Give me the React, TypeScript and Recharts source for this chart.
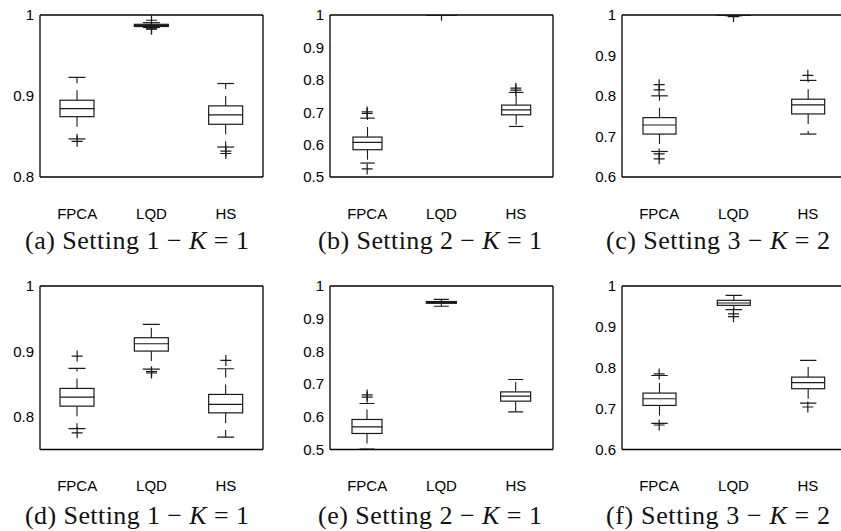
import React from 'react';
import { ComposedChart, Bar, Scatter, XAxis, YAxis, ReferenceLine } from 'recharts';

// ---------- data ----------
const methods = ['FPCA', 'LQD', 'HS'];

// each row: [low whisker, Q1, median, Q3, high whisker] for FPCA, LQD, HS
const statsA = [
  [0.847, 0.8745, 0.8844, 0.8948, 0.923],
  [0.9845, 0.9858, 0.987, 0.9885, 0.9905],
  [0.837, 0.8651, 0.8766, 0.8878, 0.9154],
];
const outliersA = [[0.844], [0.9935, 0.983, 0.9825], [0.832, 0.829]];

const statsB = [
  [0.543, 0.5842, 0.6068, 0.6233, 0.6817],
  [0.9993, 0.9996, 0.9998, 1.0, 1.0],
  [0.656, 0.692, 0.7074, 0.7219, 0.761],
];
const outliersB = [[0.696, 0.701, 0.525], [0.999], [0.768, 0.774]];

const statsC = [
  [0.663, 0.706, 0.7284, 0.7466, 0.8004],
  [0.998, 0.999, 0.9995, 1.0, 1.0],
  [0.706, 0.7557, 0.7781, 0.7921, 0.8385],
];
const outliersC = [[0.815, 0.828, 0.657, 0.645], [0.996], [0.851]];

const statsD = [
  [0.782, 0.8163, 0.8301, 0.8434, 0.874],
  [0.873, 0.9005, 0.9117, 0.9209, 0.9413],
  [0.769, 0.806, 0.8189, 0.8342, 0.8735],
];
const outliersD = [[0.8929, 0.7755], [0.869, 0.867], [0.8862]];

const statsE = [
  [0.501, 0.549, 0.5692, 0.5918, 0.6407],
  [0.938, 0.947, 0.95, 0.9525, 0.9594],
  [0.615, 0.6478, 0.663, 0.6761, 0.714],
];
const outliersE = [[0.66, 0.667], [], []];

const statsF = [
  [0.664, 0.7078, 0.7242, 0.738, 0.781],
  [0.942, 0.9527, 0.9584, 0.965, 0.977],
  [0.7135, 0.7487, 0.7634, 0.7771, 0.818],
];
const outliersF = [[0.785, 0.66], [0.932, 0.925], [0.704]];

const ticksA = [0.8, 0.9, 1];
const ticksB = [0.5, 0.6, 0.7, 0.8, 0.9, 1];
const ticksC = [0.6, 0.7, 0.8, 0.9, 1];
const ticksD = [0.8, 0.9, 1];
const ticksE = [0.5, 0.6, 0.7, 0.8, 0.9, 1];
const ticksF = [0.6, 0.7, 0.8, 0.9, 1];

const domainA: [number, number] = [0.8, 1];
const domainB: [number, number] = [0.5, 1];
const domainC: [number, number] = [0.6, 1];
const domainD: [number, number] = [0.75, 1];
const domainE: [number, number] = [0.5, 1];
const domainF: [number, number] = [0.6, 1];

const captions = [
  ['(a)', '1', '1'],
  ['(b)', '2', '1'],
  ['(c)', '3', '2'],
  ['(d)', '1', '1'],
  ['(e)', '2', '1'],
  ['(f)', '3', '2'],
];

// ---------- styling / layout ----------
const INK = '#1a1a1a';
const SANS = '"Liberation Sans", Arial, Helvetica, sans-serif';
const SERIF = '"Liberation Serif", "Times New Roman", serif';
const FRAME_W = 223;
const Y_W = 45;
const M_TOP = 10;
const M_RIGHT = 12;
const X_H = 60;
const PLUS = 5.5;

function buildRows(stats: number[][], outliers: number[][]) {
  return methods.map((name, i) => {
    const [lo, q1, med, q3, hi] = stats[i];
    const row: any = { name, lower: [lo, q1], box: [q1, q3], upper: [q3, hi], median: med };
    outliers[i].forEach((v, j) => {
      row['o' + j] = v;
    });
    return row;
  });
}

const fmt = (v: number) => (v === 1 ? '1' : v.toFixed(1));

function whiskerShape(side: 'upper' | 'lower', capW: number) {
  return (props: any) => {
    const { x, y, width, height } = props;
    if (x == null || y == null || Number.isNaN(y)) return <g />;
    const cx = x + width / 2;
    const top = Math.min(y, y + height);
    const bot = Math.max(y, y + height);
    const from = side === 'upper' ? bot : top;
    const to = side === 'upper' ? top : bot;
    return (
      <g>
        <line x1={cx} x2={cx} y1={from} y2={to} stroke={INK} strokeWidth={1.1} strokeDasharray="10 7" />
        <line x1={cx - capW / 2} x2={cx + capW / 2} y1={to} y2={to} stroke={INK} strokeWidth={1.2} />
      </g>
    );
  };
}

const boxShape = (props: any) => {
  const { x, y, width, height } = props;
  if (x == null || y == null || Number.isNaN(y)) return <g />;
  const top = Math.min(y, y + height);
  const h = Math.abs(height);
  return <rect x={x} y={top} width={width} height={h} fill="#fff" stroke={INK} strokeWidth={1.2} />;
};

function medianShape(bw: number) {
  return (props: any) => {
    const { cx, cy } = props;
    if (cx == null || cy == null || Number.isNaN(cy)) return <g />;
    return <line x1={cx - bw / 2} x2={cx + bw / 2} y1={cy} y2={cy} stroke={INK} strokeWidth={1.2} />;
  };
}

const plusShape = (props: any) => {
  const { cx, cy } = props;
  if (cx == null || cy == null || Number.isNaN(cx) || Number.isNaN(cy)) return <g />;
  return (
    <g>
      <line x1={cx - PLUS} x2={cx + PLUS} y1={cy} y2={cy} stroke={INK} strokeWidth={1.2} />
      <line x1={cx} x2={cx} y1={cy - PLUS} y2={cy + PLUS} stroke={INK} strokeWidth={1.2} />
    </g>
  );
};

type PanelProps = {
  stats: number[][];
  outliers: number[][];
  domain: [number, number];
  ticks: number[];
  frameLeft: number;
  frameTop: number;
  frameH: number;
  bw: number;
};

function BoxPanel({ stats, outliers, domain, ticks, frameLeft, frameTop, frameH, bw }: PanelProps) {
  const rows = buildRows(stats, outliers);
  const maxOut = Math.max(...outliers.map((o) => o.length));
  const W = Y_W + FRAME_W + M_RIGHT;
  const H = M_TOP + frameH + X_H;
  const tickStyle = { fill: '#000', fontSize: 15, fontFamily: SANS };
  const frame = { stroke: '#000', strokeWidth: 1.3 };
  return (
    <div style={{ position: 'absolute', left: frameLeft - Y_W, top: frameTop - M_TOP }}>
      <ComposedChart width={W} height={H} data={rows} margin={{ top: M_TOP, right: M_RIGHT, bottom: 0, left: 0 }}>
        <XAxis
          xAxisId="a"
          dataKey="name"
          tickLine={false}
          tickSize={0}
          tickMargin={31}
          axisLine={frame}
          tick={tickStyle}
          height={X_H}
          interval={0}
        />
        <XAxis xAxisId="zu" dataKey="name" hide height={0} />
        <XAxis xAxisId="zl" dataKey="name" hide height={0} />
        <YAxis
          yAxisId="y"
          type="number"
          domain={domain}
          ticks={ticks}
          allowDataOverflow
          width={Y_W}
          tickLine={false}
          tickSize={0}
          tickMargin={6}
          axisLine={frame}
          tick={tickStyle}
          tickFormatter={fmt}
          interval={0}
        />
        <YAxis
          yAxisId="yl"
          type="number"
          orientation="left"
          mirror
          domain={domain}
          ticks={ticks}
          allowDataOverflow
          tick={false}
          tickSize={4}
          axisLine={false}
          tickLine={{ stroke: '#000' }}
          interval={0}
        />
        <YAxis
          yAxisId="yr"
          type="number"
          orientation="right"
          mirror
          domain={domain}
          ticks={ticks}
          allowDataOverflow
          tick={false}
          tickSize={4}
          axisLine={frame}
          tickLine={{ stroke: '#000' }}
          interval={0}
        />
        <ReferenceLine xAxisId="a" yAxisId="y" y={domain[1]} stroke="#000" strokeWidth={1.3} ifOverflow="visible" />
        <Bar xAxisId="zu" yAxisId="y" dataKey="upper" barSize={bw} shape={whiskerShape('upper', bw / 2)} isAnimationActive={false} />
        <Bar xAxisId="zl" yAxisId="y" dataKey="lower" barSize={bw} shape={whiskerShape('lower', bw / 2)} isAnimationActive={false} />
        <Bar xAxisId="a" yAxisId="y" dataKey="box" barSize={bw} shape={boxShape} isAnimationActive={false} />
        <Scatter xAxisId="a" yAxisId="y" dataKey="median" shape={medianShape(bw)} isAnimationActive={false} />
        {Array.from({ length: maxOut }).map((_, j) => (
          <Scatter key={j} xAxisId="a" yAxisId="y" dataKey={'o' + j} shape={plusShape} isAnimationActive={false} />
        ))}
      </ComposedChart>
    </div>
  );
}

const COL_LEFT = [40, 330, 622];
const ROW_TOP = [14.5, 285.5];
const ROW_H = [162, 163.5];
const CAP_X = [137, 430, 718];
const CAP_Y = [248.5, 524];

export default function App() {
  const panels = [
    { stats: statsA, outliers: outliersA, domain: domainA, ticks: ticksA, bw: 34 },
    { stats: statsB, outliers: outliersB, domain: domainB, ticks: ticksB, bw: 29 },
    { stats: statsC, outliers: outliersC, domain: domainC, ticks: ticksC, bw: 33 },
    { stats: statsD, outliers: outliersD, domain: domainD, ticks: ticksD, bw: 34 },
    { stats: statsE, outliers: outliersE, domain: domainE, ticks: ticksE, bw: 30 },
    { stats: statsF, outliers: outliersF, domain: domainF, ticks: ticksF, bw: 33 },
  ];
  return (
    <div
      style={{
        position: 'absolute',
        left: 0,
        top: 0,
        width: 841,
        height: 531,
        overflow: 'hidden',
        background: '#fff',
      }}
    >
      {panels.map((p, i) => {
        const col = i % 3;
        const row = Math.floor(i / 3);
        return (
          <BoxPanel
            key={i}
            {...p}
            frameLeft={COL_LEFT[col]}
            frameTop={ROW_TOP[row]}
            frameH={ROW_H[row]}
          />
        );
      })}
      <svg width={841} height={531} style={{ position: 'absolute', left: 0, top: 0, pointerEvents: 'none' }}>
        {captions.map((c, i) => {
          const col = i % 3;
          const row = Math.floor(i / 3);
          return (
            <text
              key={i}
              x={CAP_X[col]}
              y={CAP_Y[row]}
              textAnchor="middle"
              fontFamily={SERIF}
              fontSize={26}
              fill="#111"
              textLength={224}
              lengthAdjust="spacing"
            >
              {c[0]} Setting {c[1]} {'\u2212'} <tspan fontStyle="italic">K</tspan> = {c[2]}
            </text>
          );
        })}
      </svg>
    </div>
  );
}
